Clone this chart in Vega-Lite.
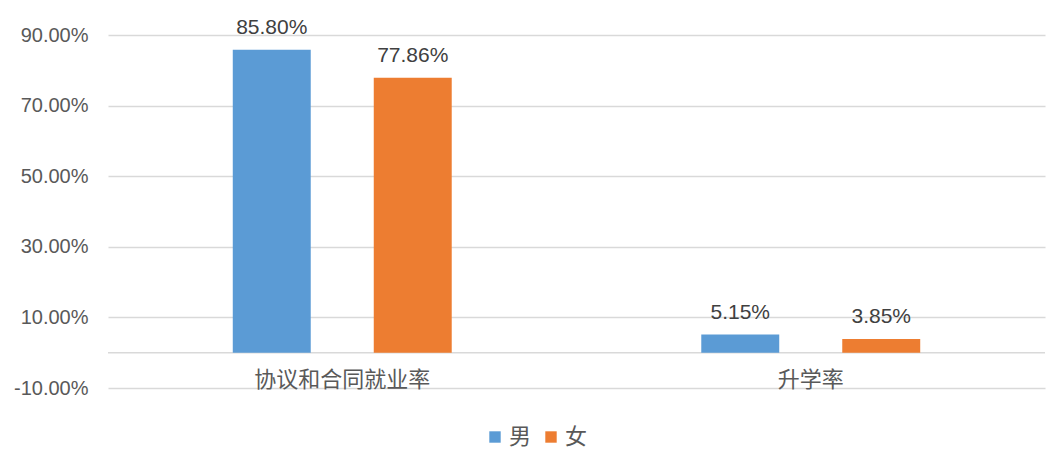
{
  "$schema": "https://vega.github.io/schema/vega-lite/v6.json",
  "autosize": {"type": "none"},
  "width": 937,
  "height": 353,
  "padding": {"left": 108, "top": 35, "right": 10, "bottom": 77},
  "background": "white",
  "data": {
    "values": [
      {"category": "协议和合同就业率", "sex": "男", "rate": 85.80},
      {"category": "协议和合同就业率", "sex": "女", "rate": 77.86},
      {"category": "升学率", "sex": "男", "rate": 5.15},
      {"category": "升学率", "sex": "女", "rate": 3.85}
    ]
  },
  "encoding": {
    "x": {
      "field": "category",
      "type": "nominal",
      "sort": ["协议和合同就业率", "升学率"],
      "scale": {"paddingInner": 0, "paddingOuter": 0},
      "axis": {
        "title": null,
        "domain": false,
        "ticks": false,
        "labelAngle": 0,
        "labelPadding": -19,
        "labelBaseline": "top",
        "labelFont": "Noto Sans CJK SC",
        "labelFontSize": 22,
        "labelColor": "#595959"
      }
    },
    "y": {
      "field": "rate",
      "type": "quantitative",
      "scale": {"domain": [-10, 90], "nice": false, "zero": false},
      "axis": {
        "title": null,
        "domain": false,
        "ticks": false,
        "values": [-10, 10, 30, 50, 70, 90],
        "labelExpr": "replace(format(datum.value, '.2f'), '\u2212', '-') + '%'",
        "labelFont": "Liberation Sans",
        "labelFontSize": 20,
        "labelColor": "#595959",
        "labelPadding": 20,
        "gridColor": "#d9d9d9",
        "gridWidth": 1.5
      }
    }
  },
  "layer": [
    {
      "mark": {"type": "rule", "color": "#d9d9d9", "strokeWidth": 1.5},
      "data": {"values": [{"zero": 0}]},
      "encoding": {
        "x": null,
        "y": {"field": "zero", "type": "quantitative"}
      }
    },
    {
      "mark": {"type": "bar"},
      "encoding": {
        "xOffset": {
          "field": "sex",
          "type": "nominal",
          "sort": ["男", "女"],
          "scale": {"paddingInner": 0.447, "paddingOuter": 0.885}
        },
        "y2": {"datum": 0},
        "color": {
          "field": "sex",
          "type": "nominal",
          "sort": ["男", "女"],
          "scale": {"domain": ["男", "女"], "range": ["#5B9BD5", "#ED7D31"]},
          "legend": {
            "title": null,
            "orient": "none",
            "legendX": 376,
            "legendY": 391,
            "direction": "horizontal",
            "symbolType": "square",
            "symbolSize": 130,
            "symbolStrokeWidth": 0,
            "labelFont": "Noto Sans CJK SC",
            "labelFontSize": 22,
            "labelColor": "#595959",
            "labelOffset": 3,
            "columnPadding": 8
          }
        }
      }
    },
    {
      "transform": [
        {"calculate": "format(datum.rate, '.2f') + '%'", "as": "label"}
      ],
      "mark": {
        "type": "text",
        "baseline": "alphabetic",
        "dy": -16,
        "font": "Liberation Sans",
        "fontSize": 21,
        "color": "#404040"
      },
      "encoding": {
        "xOffset": {
          "field": "sex",
          "type": "nominal",
          "sort": ["男", "女"],
          "scale": {"paddingInner": 0.447, "paddingOuter": 0.885}
        },
        "text": {"field": "label", "type": "nominal"},
        "detail": {"field": "sex"}
      }
    }
  ],
  "config": {
    "view": {"stroke": null}
  }
}
